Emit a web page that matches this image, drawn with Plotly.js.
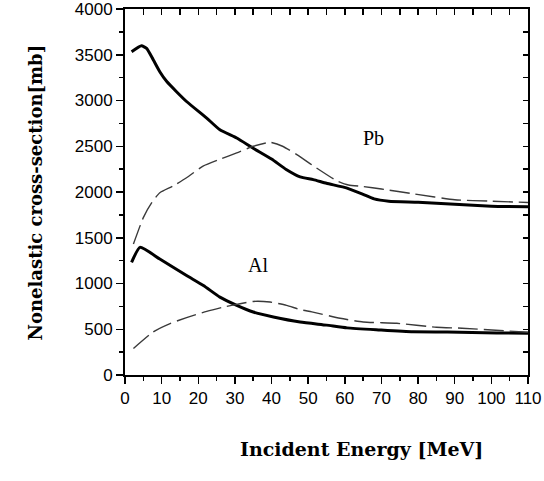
<!DOCTYPE html>
<html>
<head>
<meta charset="utf-8">
<script src="https://cdn.plot.ly/plotly-3.0.1.min.js"></script>
<style>html,body{margin:0;padding:0;background:#fff;}#chart{width:544px;height:481px;}</style>
</head>
<body>
<div id="chart"></div>
<script>
// Pb
var pbSolidE = [1.8, 4.5, 5.9, 7.7, 9.5, 11.4, 16.8, 22.3, 25.9, 30.5, 35, 40, 44, 47.8, 51.4, 55, 60.6, 65, 68, 72, 80, 90, 100, 110];
var pbSolidV = [3533, 3598, 3569, 3446, 3315, 3207, 2989, 2808, 2680, 2590, 2478, 2360, 2246, 2165, 2135, 2095, 2043, 1975, 1925, 1900, 1888, 1865, 1845, 1840];
var pbDashE = [2.3, 5, 7.3, 9.5, 13.1, 16.8, 21.3, 25.9, 30.5, 35, 39.6, 43, 46.9, 52, 57.9, 61, 65, 70, 79, 90, 100, 110];
var pbDashV = [1431, 1720, 1884, 1992, 2065, 2156, 2283, 2358, 2427, 2500, 2543, 2500, 2409, 2270, 2120, 2076, 2060, 2033, 1978, 1915, 1900, 1885];
// Al
var alSolidE = [1.8, 4.1, 9.5, 16.8, 21.4, 25.9, 30.5, 35, 40.5, 47.8, 55, 60.6, 69.6, 78.6, 88, 101.5, 110];
var alSolidV = [1232, 1395, 1268, 1087, 978, 851, 761, 688, 634, 579, 545, 515, 492, 472, 470, 460, 455];
var alDashE = [2.3, 7.7, 12.3, 16.8, 22.3, 26.8, 31.4, 35, 39.6, 44.1, 47.8, 51, 58.7, 65, 74.2, 85, 92, 110];
var alDashV = [290, 471, 562, 627, 696, 742, 779, 804, 797, 761, 715, 690, 620, 580, 565, 522, 511, 467];

var xTickVals = [0,10,20,30,40,50,60,70,80,90,100,110];
var yTickVals = [0,500,1000,1500,2000,2500,3000,3500,4000];

var solid = {color:'#000', width:3, shape:'spline', smoothing:0.5};
var dashed = {color:'#3a3a3a', width:1.4, dash:'20px,6px', shape:'spline', smoothing:0.5};

var traces = [
  {x:pbSolidE, y:pbSolidV, mode:'lines', line:solid, hoverinfo:'skip'},
  {x:pbDashE, y:pbDashV, mode:'lines', line:dashed, hoverinfo:'skip'},
  {x:alSolidE, y:alSolidV, mode:'lines', line:solid, hoverinfo:'skip'},
  {x:alDashE, y:alDashV, mode:'lines', line:dashed, hoverinfo:'skip'}
];

var tickFont = {family:'Liberation Sans, Arial, sans-serif', size:17, color:'#000'};
var T = 9, B = 106;
var pw = 544-125-16, ph = 481-T-B;
var layout = {
  width:544, height:481,
  margin:{l:125, r:16, t:T, b:B},
  paper_bgcolor:'#fff', plot_bgcolor:'#fff',
  showlegend:false,
  xaxis:{range:[0,110], tickvals:xTickVals, ticks:'outside', ticklen:7, tickwidth:1.5, tickcolor:'#000',
         minor:{dtick:5, tick0:0, ticks:'outside', ticklen:4, tickwidth:1.5, tickcolor:'#000'},
         showline:true, linecolor:'#000', linewidth:2, mirror:true, showgrid:false, zeroline:false,
         tickfont:tickFont, ticklabeloverflow:'allow', fixedrange:true},
  yaxis:{range:[0,4000], tickvals:yTickVals, ticks:'outside', ticklen:7, tickwidth:1.5, tickcolor:'#000',
         minor:{dtick:250, tick0:0, ticks:'outside', ticklen:4, tickwidth:1.5, tickcolor:'#000'},
         showline:true, linecolor:'#000', linewidth:2, mirror:true, showgrid:false, zeroline:false,
         tickfont:tickFont, ticklabeloverflow:'allow', fixedrange:true},
  xaxis2:{overlaying:'x', side:'top', range:[0,110], dtick:5, tick0:0, ticks:'inside', ticklen:6, tickwidth:1.5,
          tickcolor:'#000', showticklabels:false, showgrid:false, zeroline:false, showline:false},
  yaxis2:{overlaying:'y', side:'right', range:[0,4000], dtick:250, tick0:0, ticks:'inside', ticklen:5, tickwidth:1.5,
          tickcolor:'#000', showticklabels:false, showgrid:false, zeroline:false, showline:false},
  annotations:[
    {x:67.7, y:2590, xref:'x', yref:'y', text:'Pb', showarrow:false,
     font:{family:'Liberation Serif, Times New Roman, serif', size:20, color:'#000'}},
    {x:36.3, y:1200, xref:'x', yref:'y', text:'Al', showarrow:false,
     font:{family:'Liberation Serif, Times New Roman, serif', size:20, color:'#000'}},
    {x:(361-125)/pw, y:(375-462)/ph, xref:'paper', yref:'paper', text:'<b>Incident Energy [MeV]</b>', showarrow:false,
     font:{family:'DejaVu Serif, serif', size:19, color:'#000'}},
    {x:(22-125)/pw, y:(375-193)/ph, xref:'paper', yref:'paper', text:'<b>Nonelastic cross-section[mb]</b>', showarrow:false, textangle:-90,
     font:{family:'DejaVu Serif, serif', size:18, color:'#000'}}
  ]
};

// invisible trace to activate the mirrored tick axes
traces.push({x:[0], y:[0], xaxis:'x2', yaxis:'y2', mode:'markers', marker:{opacity:0}, hoverinfo:'skip'});

Plotly.newPlot('chart', traces, layout, {staticPlot:true, displayModeBar:false});
</script>
</body>
</html>
